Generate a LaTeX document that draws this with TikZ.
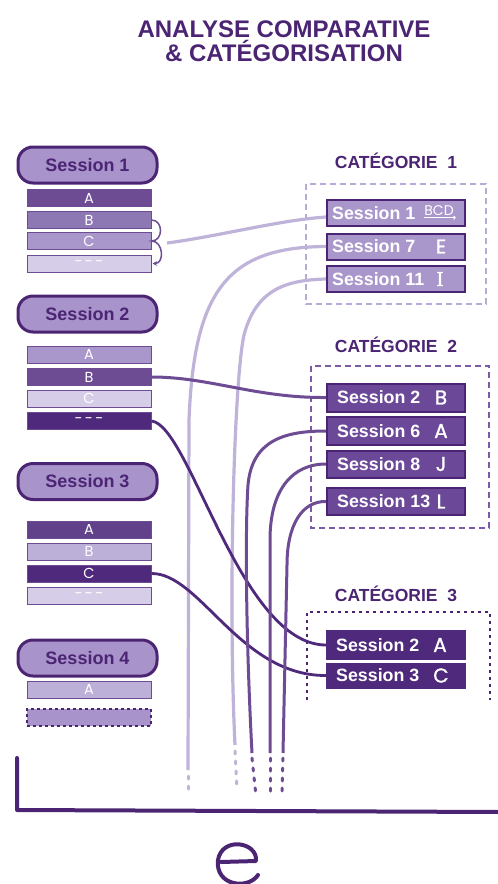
\documentclass[tikz,border=0pt]{standalone}
\usepackage{fontspec}
\newfontfamily\arial{Liberation Sans}
\newfontfamily\hand{Poppins}
\newfontfamily\handb[FakeBold=1.2]{Poppins}
\newfontfamily\serifb[FakeBold=2]{Liberation Serif}
\usetikzlibrary{arrows.meta}
\definecolor{pdark}{HTML}{4B2574}
\definecolor{pmid}{HTML}{6E4C94}
\definecolor{pmed}{HTML}{8E78B3}
\definecolor{plm}{HTML}{A996CB}
\definecolor{plight}{HTML}{BCAFD8}
\definecolor{pvl}{HTML}{D6CDE8}
\definecolor{pdeep}{HTML}{4F2A7C}
\definecolor{pillc}{HTML}{A993CB}
\definecolor{clight}{HTML}{BFB3DA}
\definecolor{ctwo}{HTML}{6C4898}
\definecolor{dashlight}{HTML}{B8A9D6}
\definecolor{dashmid}{HTML}{7B5AA8}
\begin{document}
\begin{tikzpicture}[x=1pt,y=-1pt,
  pillbox/.style={draw=pdark, line width=3pt, fill=pillc, rounded corners=15pt, minimum width=139pt, minimum height=36pt, inner sep=0pt, text=pdark, font=\arial\bfseries\fontsize{18}{18}\selectfont},
  sbar/.style={draw=pmid, line width=1pt, minimum width=124pt, minimum height=17pt, inner sep=0pt, text=white, font=\hand\fontsize{14.5}{14.5}\selectfont},
  catbox/.style={draw=pdark, line width=2pt, minimum width=138pt, minimum height=26pt, inner sep=0pt},
  cattext/.style={anchor=west, text=white, inner sep=0pt, font=\arial\bfseries\fontsize{17.8}{17.8}\selectfont},
  handtxt/.style={text=white, inner sep=0pt, font=\handb\fontsize{20}{20}\selectfont},
  heading/.style={text=pdark, font=\arial\bfseries\fontsize{17.5}{17.5}\selectfont},
  conlight/.style={draw=clight, line width=3.2pt},
  conmid/.style={draw=pmid, line width=3pt},
  condark/.style={draw=pdeep, line width=2.8pt},
  dotlight/.style={draw=clight, line width=3pt, line cap=round, dash pattern=on 3pt off 7pt},
  dotmid/.style={draw=pmid, line width=3pt, line cap=round, dash pattern=on 3pt off 7pt}
]
\fill[white] (0,0) rectangle (498,884);
\useasboundingbox (0,0) rectangle (498,884);

% title
\node[text=pdark, align=center, font=\arial\bfseries\fontsize{24}{24.5}\selectfont] (title) at (284,41) {ANALYSE COMPARATIVE\\\& CATÉGORISATION};

% sessions
\node[pillbox] (p1) at (87.5,165) {Session 1};
\node[sbar, fill=pmid] (s1a) at (89,198) {A};
\node[sbar, fill=pmed] (s1b) at (89,220) {B};
\node[sbar, fill=plm] (s1c) at (89,241) {C};
\node[sbar, fill=pvl] (s1d) at (89,263.5) {-\,-\,-};

\node[pillbox] (p2) at (87.5,314) {Session 2};
\node[sbar, fill=plm] (s2a) at (89,354.5) {A};
\node[sbar, fill=pmid] (s2b) at (89,377) {B};
\node[sbar, fill=pvl] (s2c) at (89,398.5) {C};
\node[sbar, fill=pdeep] (s2d) at (89,421) {-\,-\,-};

\node[pillbox] (p3) at (87.5,481.5) {Session 3};
\node[sbar, fill=ctwo!90!black] (s3a) at (89,529.5) {A};
\node[sbar, fill=plight] (s3b) at (89,551.5) {B};
\node[sbar, fill=pdeep] (s3c) at (89,573.5) {C};
\node[sbar, fill=pvl] (s3d) at (89,595.5) {-\,-\,-};

\node[pillbox] (p4) at (87.5,658) {Session 4};
\node[sbar, fill=plight] (s4a) at (89,689.5) {A};
\node[sbar, fill=pillc, draw=pdark, line width=2.5pt, dash pattern=on 3pt off 3pt] (s4b) at (89,717.5) {};

% curl arrows of session 1
\draw[pmid, line width=1.5pt, -{Stealth[length=4.5pt,width=4.5pt]}] (s1b.east) .. controls +(12,0) and +(12,0) .. (s1c.east) .. controls +(12,0) and +(12,0) .. ([xshift=1pt]s1d.east);

% categories
\node[heading] (h1) at (396,161) {CATÉGORIE~~1};
\draw[dashlight, line width=2pt, dash pattern=on 6pt off 4pt] (306,184) rectangle (486,304);
\node[catbox, fill=plm] (c1a) at (396,213) {};
\node[catbox, fill=plm] (c1b) at (396,246.5) {};
\node[catbox, fill=plm] (c1c) at (396,279) {};
\node[cattext] at (332,213) {Session 1};
\node[cattext] at (332,246.5) {Session 7};
\node[cattext] at (332,279) {Session 11};
\node[handtxt, font=\hand\fontsize{14}{14}\selectfont] (bcd) at (439,211) {BCD};
\draw[white, line width=1pt, -{To[length=2.5pt,width=4pt]}] ([yshift=-1.5pt]bcd.south west) -- ([yshift=-1.5pt,xshift=2pt]bcd.south east);
\node[handtxt] at (441,246.5) {E};
\node[handtxt, font=\serifb\fontsize{21}{21}\selectfont] at (440,279) {I};

\node[heading] (h2) at (396,344.5) {CATÉGORIE~~2};
\draw[dashmid, line width=2pt, dash pattern=on 6pt off 4pt] (311,366) rectangle (489,528);
\node[catbox, fill=ctwo, minimum height=28pt] (c2a) at (396,397.5) {};
\node[catbox, fill=ctwo, minimum height=28pt] (c2b) at (396,431) {};
\node[catbox, fill=ctwo, minimum height=27pt] (c2c) at (396,464) {};
\node[catbox, fill=ctwo, minimum height=27pt] (c2d) at (396,501.5) {};
\node[cattext] at (337,397.5) {Session 2};
\node[cattext] at (337,431) {Session 6};
\node[cattext] at (337,464) {Session 8};
\node[cattext] at (337,501.5) {Session 13};
\node[handtxt] at (441,397.5) {B};
\node[handtxt] at (441,431) {A};
\node[handtxt] at (441,464) {J};
\node[handtxt] at (441,501.5) {L};

\node[heading] (h3) at (396,593.5) {CATÉGORIE~~3};
\draw[pdark, line width=2.5pt, dash pattern=on 3pt off 4pt] (307,700) -- (307,612) -- (490,612) -- (490,700);
\node[catbox, fill=pdeep, draw=pdeep, minimum height=28pt] (c3a) at (396,645) {};
\node[catbox, fill=pdeep, draw=pdeep, minimum height=24pt] (c3b) at (396,675.5) {};
\node[cattext] at (336,645) {Session 2};
\node[cattext] at (336,675.5) {Session 3};
\node[handtxt] at (440,645) {A};
\node[handtxt] at (441,675.5) {C};

% free ends
\coordinate (q1) at (167,243);
\coordinate (b1) at (188,770);
\coordinate (e1) at (188,794);
\coordinate (b2) at (235,745);
\coordinate (e2) at (237,790);
\coordinate (b3) at (252,753);
\coordinate (e3) at (256,796);
\coordinate (b4) at (270,753);
\coordinate (e4) at (270,796);
\coordinate (b5) at (283,753);
\coordinate (e5) at (282,797);

% connectors
\draw[conlight] (q1) .. controls (220,236) and (280,220) .. ([yshift=-4pt]c1a.west);
\draw[conlight] (b1) -- (189,420) .. controls (194,290) and (228,247) .. (c1b.west);
\draw[conlight] (b2) .. controls (228,600) and (234,380) .. (244,335) .. controls (256,290) and (285,280) .. (c1c.west);
\draw[conmid] (s2b.east) .. controls (210,377) and (255,398) .. (c2a.west);
\draw[condark] (s2d.east) .. controls (190,425) and (240,645) .. (c3a.west);
\draw[condark] (s3c.east) .. controls (200,573) and (240,676) .. (c3b.west);
\draw[conmid] (b3) .. controls (246,640) and (245,530) .. (248,485) .. controls (252,440) and (285,431) .. (c2b.west);
\draw[conmid] (b4) -- (270,540) .. controls (270,490) and (292,464) .. (c2c.west);
\draw[conmid] (b5) -- (287,565) .. controls (287,525) and (302,501) .. (c2d.west);

\draw[dotlight] ([yshift=-6pt]b1) -- (e1);
\draw[dotlight] ([yshift=-6pt]b2) -- (e2);
\draw[dotmid] ([yshift=-5pt]b3) -- (e3);
\draw[dotmid] ([yshift=-5pt]b4) -- (e4);
\draw[dotmid] ([yshift=-5pt]b5) -- (e5);

% bracket
\coordinate (k1) at (17,758);
\coordinate (k2) at (17,810);
\coordinate (k3) at (500,812);
\draw[pdark, line width=4pt, line join=round, line cap=round] (k1) -- (k2) -- (k3);

% handwritten e
\draw[pdark, line width=4pt, line cap=round, line join=round] (221,862) -- (256,861) .. controls (258,842) and (222,836) .. (218,860) .. controls (215,886) and (248,890) .. (258,875);
\end{tikzpicture}
\end{document}
